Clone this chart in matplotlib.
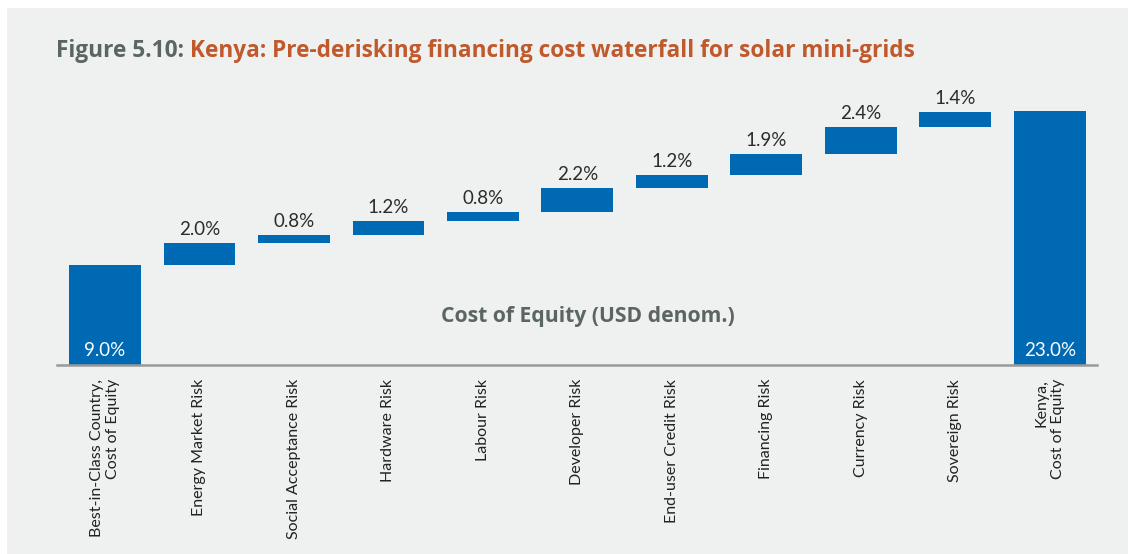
import matplotlib
matplotlib.use("Agg")
import matplotlib.pyplot as plt
from matplotlib import font_manager
from matplotlib.patches import Rectangle

# ── Data ──────────────────────────────────────────────────────
categories = [
    "Best-in-Class Country,\nCost of Equity",
    "Energy Market Risk",
    "Social Acceptance Risk",
    "Hardware Risk",
    "Labour Risk",
    "Developer Risk",
    "End-user Credit Risk",
    "Financing Risk",
    "Currency Risk",
    "Sovereign Risk",
    "Kenya,\nCost of Equity",
]
start_value = 9.0
increments = [2.0, 0.8, 1.2, 0.8, 2.2, 1.2, 1.9, 2.4, 1.4]
end_value = 23.0

# ── Style ─────────────────────────────────────────────────────
BLUE = "#0069b4"
GREY_TXT = "#5b6664"
ORANGE = "#c0592b"
BG = "#eff0f0"

names = {f.name for f in font_manager.fontManager.ttflist}
NARROW = "Lato" if "Lato" in names else "DejaVu Sans"
BOLD = "Open Sans" if "Open Sans" in names else "DejaVu Sans"

fig = plt.figure(figsize=(11.28, 5.54), dpi=100)
fig.patch.set_facecolor("white")
fig.patches.append(Rectangle((7 / 1128, 0), 1, 1 - 8 / 554, transform=fig.transFigure,
                             facecolor=BG, edgecolor="none", zorder=-10))

ax = fig.add_axes([57 / 1128, 189 / 554, 1040 / 1128, 0.499])
ax.set_facecolor("none")
ax.set_xlim(-0.508, 10.5)
ax.set_ylim(0, 25)

width = 0.76
# first bar
ax.bar(0, start_value, width=width, color=BLUE, zorder=2)
ax.text(0, 0.5, f"{start_value:.1f}%", ha="center", va="bottom", color="white",
        fontsize=13.5, family=NARROW)

# floating increments
base = start_value
for i, inc in enumerate(increments, start=1):
    ax.bar(i, inc, bottom=base, width=width, color=BLUE, zorder=2)
    ax.text(i, base + inc + 0.45, f"{inc:.1f}%", ha="center", va="bottom",
            color="#2b2b2b", fontsize=13.5, family=NARROW)
    base += inc

# final bar
last = len(categories) - 1
ax.bar(last, end_value, width=width, color=BLUE, zorder=2)
ax.text(last, 0.5, f"{end_value:.1f}%", ha="center", va="bottom", color="white",
        fontsize=13.5, family=NARROW)

ax.text(0.51, 0.177, "Cost of Equity (USD denom.)", transform=ax.transAxes,
        ha="center", va="center", color=GREY_TXT, fontsize=15.2, fontweight="bold",
        family=BOLD)

for s in ["top", "right", "left"]:
    ax.spines[s].set_visible(False)
ax.spines["bottom"].set_color("#999999")
ax.spines["bottom"].set_linewidth(1.8)
ax.set_yticks([])
ax.set_xticks(range(len(categories)))
ax.set_xticklabels(categories, rotation=90, fontsize=11.5, family=NARROW,
                   color="#222222", ha="center", va="top", multialignment="right")
ax.tick_params(axis="x", length=0, pad=10)

# two-colour title
t1 = fig.text(56 / 1128, 1 - 51 / 554, "Figure 5.10: ", color=GREY_TXT, fontsize=16.3,
              fontweight="bold", family=BOLD, va="center", ha="left")
fig.canvas.draw()
bb = t1.get_window_extent()
fig.text(bb.x1 / fig.bbox.width, 1 - 51 / 554,
         "Kenya: Pre-derisking financing cost waterfall for solar mini-grids",
         color=ORANGE, fontsize=16.3, fontweight="bold", family=BOLD, va="center", ha="left")

fig.savefig("out.png", dpi=100, facecolor=fig.get_facecolor())
